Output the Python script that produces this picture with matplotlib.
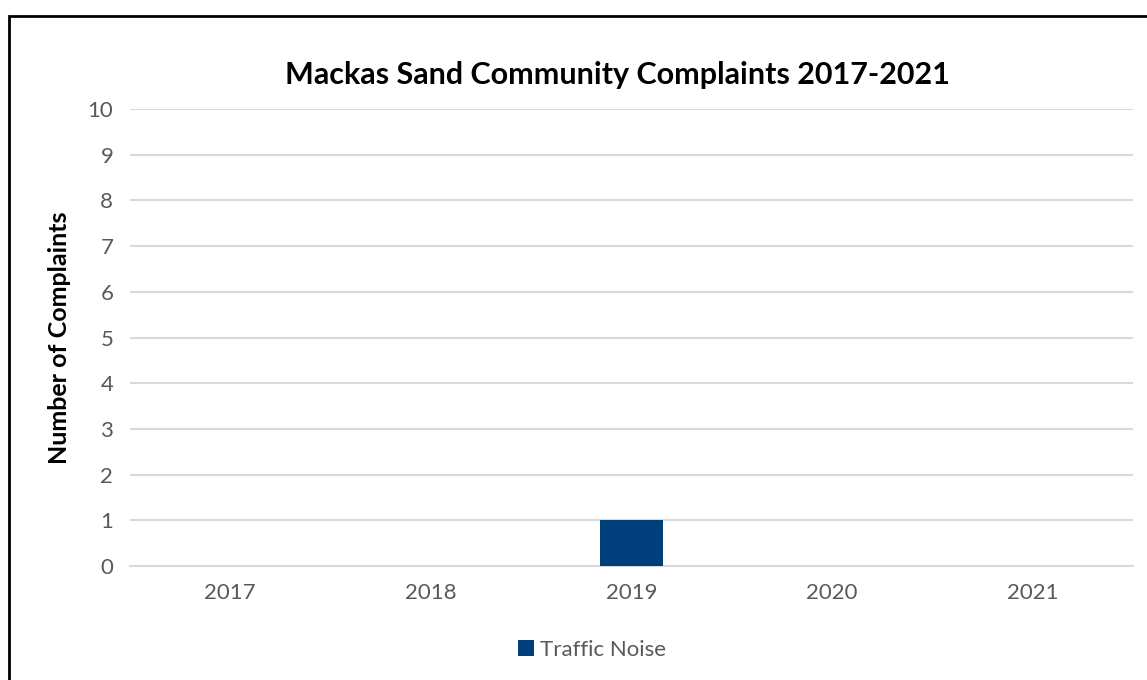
import matplotlib.pyplot as plt
from matplotlib.patches import Rectangle

years = ["2017", "2018", "2019", "2020", "2021"]
traffic_noise = [0, 0, 1, 0, 0]

plt.rcParams['font.family'] = ['Lato', 'DejaVu Sans']

fig = plt.figure(figsize=(11.47, 6.8), dpi=100)
ax = fig.add_axes([130 / 1147, 1 - 566 / 680, 1003 / 1147, 457 / 680])

x = range(len(years))
ax.bar(x, traffic_noise, width=0.31, color="#003F7B", label="Traffic Noise", zorder=3)

ax.set_xlim(-0.5, len(years) - 0.5)
ax.set_ylim(0, 10)
ax.set_yticks(range(0, 11))
ax.set_xticks(list(x))
ax.set_xticklabels(years)
ax.tick_params(axis="both", length=0, labelsize=16, colors="#595959")
ax.tick_params(axis="x", pad=12)
ax.tick_params(axis="y", pad=12)
ax.grid(axis="y", color="#D9D9D9", linewidth=1.5, zorder=0)
for s in ["top", "right", "left"]:
    ax.spines[s].set_visible(False)
ax.spines["bottom"].set_color("#D9D9D9")
ax.spines["bottom"].set_linewidth(1.5)

ax.set_ylabel("Number of Complaints", fontsize=18, fontweight="bold", labelpad=12)
fig.text(617 / 1147, 1 - 75 / 680, "Mackas Sand Community Complaints 2017-2021",
         ha="center", va="center", fontsize=22, fontweight="bold")

leg = fig.legend(*ax.get_legend_handles_labels(), loc="center",
                 bbox_to_anchor=(592 / 1147, 1 - 650 / 680), frameon=False,
                 fontsize=16, handlelength=0.7, handleheight=0.7, handletextpad=0.25)
for t in leg.get_texts():
    t.set_color("#595959")

# chart border
fig.patches.append(Rectangle((9 / 1147, -0.05), 1.1, 1 - 16 / 680 + 0.05,
                             transform=fig.transFigure, fill=False,
                             edgecolor="black", linewidth=2))

fig.savefig("out.png", dpi=100)
